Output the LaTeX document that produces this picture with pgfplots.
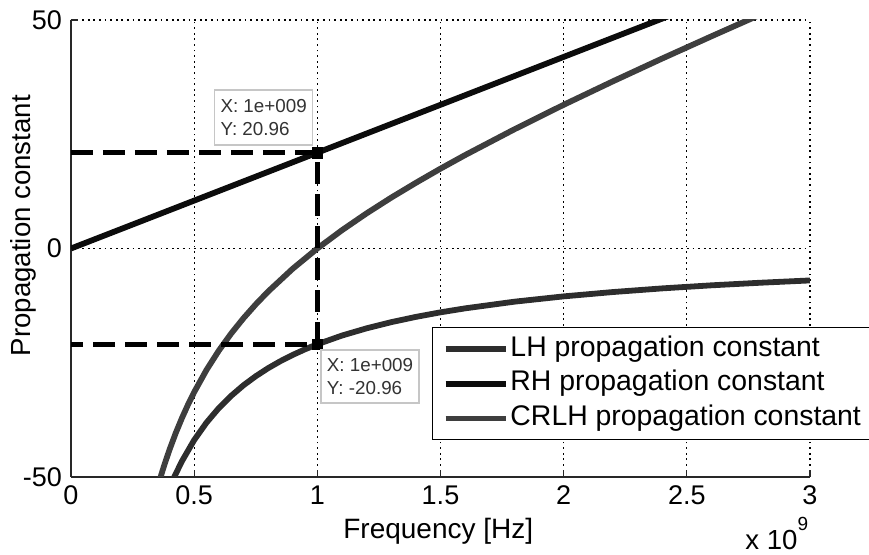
\documentclass[border=0pt]{standalone}
\usepackage{fontspec}
\setmainfont{Liberation Sans}
\usepackage{pgfplots}
\pgfplotsset{compat=1.18}
\definecolor{lhcol}{RGB}{45,45,45}
\definecolor{rhcol}{RGB}{12,12,12}
\definecolor{crlhcol}{RGB}{62,62,62}
\definecolor{axcol}{RGB}{40,40,40}
\begin{document}
\begin{tikzpicture}
\begin{axis}[
  at={(0,0)}, anchor=south west,
  scale only axis, width=369.5pt, height=228.5pt,
  xmin=0, xmax=3, ymin=-50, ymax=50,
  axis x line=bottom, axis y line=left,
  axis line style={-, axcol, line width=0.8pt},
  xtick={0,0.5,1,1.5,2,2.5,3},
  xticklabels={0,0.5,1,1.5,2,2.5,3},
  ytick={-50,0,50},
  yticklabels={-50,0,50},
  tick align=inside, major tick length=3.5pt,
  tick style={axcol, line width=0.6pt},
  ticklabel style={font=\fontsize{13.5}{15}\selectfont, text=black},
  xticklabel style={yshift=-1pt},
  yticklabel style={xshift=-1pt},
  grid=major,
  major grid style={black, line width=0.55pt, dash pattern=on 0.9pt off 1.9pt},
  xlabel={Frequency [Hz]},
  xlabel style={at={(axis description cs:0.497,-0.118)}, anchor=center, font=\fontsize{14}{16}\selectfont},
  ylabel={Propagation constant},
  ylabel style={at={(axis description cs:-0.065,0.55)}, anchor=center, rotate=0, font=\fontsize{13.8}{15}\selectfont},
  legend style={at={(axis description cs:0.4885,0.328)}, anchor=north west,
    draw=black, line width=0.7pt, fill=white,
    font=\fontsize{14.2}{16}\selectfont,
    inner xsep=5pt, inner ysep=3pt, row sep=2.2pt,
    nodes={inner sep=1pt, text height=10.2pt, text depth=3pt}},
  legend cell align=left,
  legend image code/.code={\draw[#1] (0pt,0pt) -- (30pt,0pt);},
  clip mode=individual,
]
% LH propagation constant
\addplot[lhcol, line width=2.9pt, line join=round] coordinates {
(0.40,-52.40)(0.42,-49.90)(0.45,-46.58)(0.50,-41.92)(0.55,-38.11)(0.60,-34.93)
(0.65,-32.25)(0.70,-29.94)(0.75,-27.95)(0.80,-26.20)(0.85,-24.66)(0.90,-23.29)
(0.95,-22.06)(1.00,-20.96)(1.10,-19.05)(1.20,-17.47)(1.30,-16.12)(1.40,-14.97)
(1.50,-13.97)(1.60,-13.10)(1.80,-11.64)(2.00,-10.48)(2.20,-9.53)(2.40,-8.73)
(2.60,-8.06)(2.80,-7.49)(3.00,-6.99)};
\addlegendentry{LH propagation constant}
% RH propagation constant
\addplot[rhcol, line width=2.9pt] coordinates {
(0,0)(1,20.96)(2,41.92)(2.45,51.35)};
\addlegendentry{RH propagation constant}
% CRLH propagation constant
\addplot[crlhcol, line width=2.9pt, line join=round] coordinates {
(0.35,-52.55)(0.36,-50.68)(0.37,-48.90)(0.38,-47.19)(0.40,-44.02)(0.425,-40.41)
(0.45,-37.15)(0.475,-34.17)(0.50,-31.44)(0.55,-26.58)(0.60,-22.36)(0.65,-18.62)
(0.70,-15.27)(0.75,-12.23)(0.80,-9.43)(0.90,-4.43)(1.00,0.00)(1.10,4.00)
(1.20,7.69)(1.30,11.13)(1.40,14.37)(1.50,17.47)(1.60,20.44)(1.80,26.08)
(2.00,31.44)(2.20,36.58)(2.40,41.57)(2.60,46.43)(2.75,50.02)(2.80,51.20)};
\addlegendentry{CRLH propagation constant}
% data-tip guide lines
\addplot[black, line width=2.5pt, dash pattern=on 11pt off 5pt, forget plot] coordinates {
(0,20.96)(1,20.96)(1,-20.96)(0,-20.96)};
% data-tip markers
\addplot[only marks, mark=square*, mark size=2.6pt, black, forget plot] coordinates {
(1,20.96)(1,-20.96)};
% data tip boxes
\node[draw=gray!45, line width=0.7pt, fill=white, align=left, inner xsep=3pt, inner ysep=3pt,
  minimum width=45.5pt, minimum height=27.5pt, text=black!80,
  font=\fontsize{9.4}{11.5}\selectfont] at (axis cs:0.782,28.7)
  {X: 1e+009\\Y: 20.96};
\node[draw=gray!45, line width=0.7pt, fill=white, align=left, inner xsep=3pt, inner ysep=3pt,
  minimum width=45pt, minimum height=26.5pt, text=black!80,
  font=\fontsize{9.4}{11.5}\selectfont] at (axis cs:1.214,-28.0)
  {X: 1e+009\\Y: -20.96};
\end{axis}
% scale label (x 10^9) below the right end of the x axis
\node[font=\fontsize{13.8}{15}\selectfont, anchor=base west, inner sep=0pt] at (337pt,-36.5pt) {x 10\raisebox{\dimexpr1.75ex-3.2pt\relax}{\fontsize{9.5}{10}\selectfont 9}};
\pgfresetboundingbox
\useasboundingbox (-35.5pt,-39pt) rectangle (399pt,238.5pt);
\end{tikzpicture}
\end{document}
